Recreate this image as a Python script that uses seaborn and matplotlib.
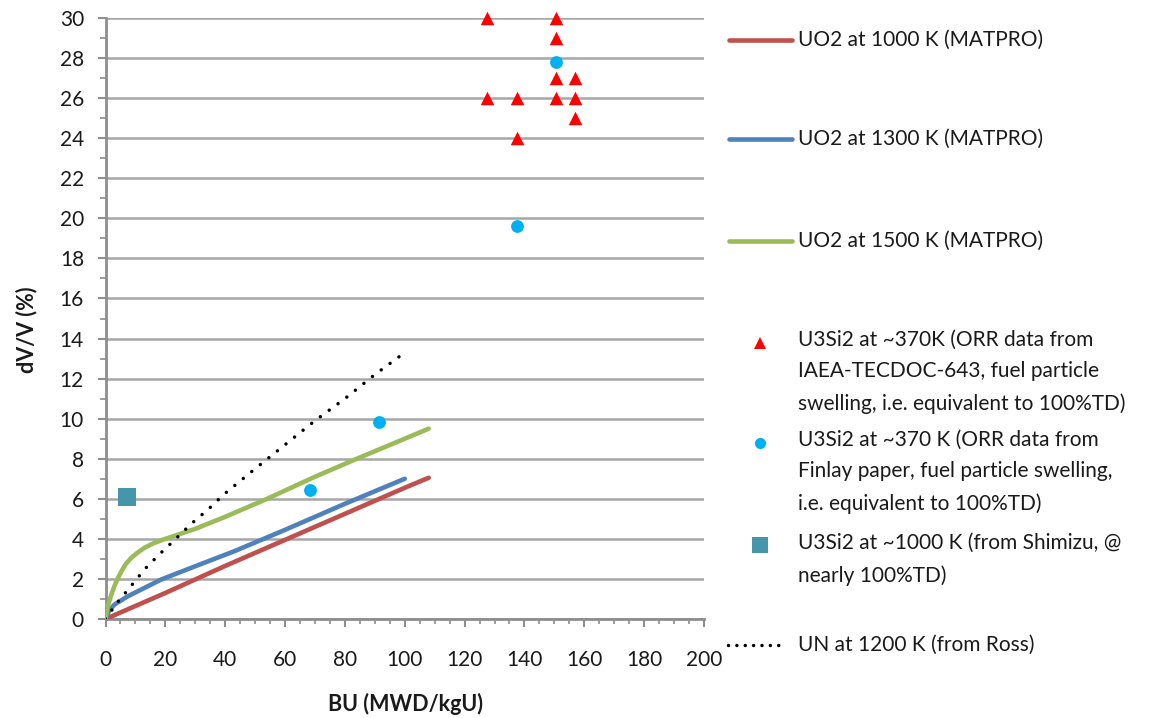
import numpy as np
import pandas as pd
import matplotlib
matplotlib.use("Agg")
import matplotlib.pyplot as plt
import seaborn as sns
from matplotlib.lines import Line2D

# ---------------- data ----------------
uo2_1000_bu = [0, 20, 40, 60, 80, 100, 108]
uo2_1000_dv = [0, 1.3, 2.65, 3.95, 5.25, 6.55, 7.05]

uo2_1300_bu = [0, 1.3, 3, 7.4, 18.6, 30.8, 43, 60, 80, 100]
uo2_1300_dv = [0, 0.45, 0.72, 1.13, 1.97, 2.68, 3.38, 4.45, 5.75, 7.0]

uo2_1500_bu = [0, 0.4, 1, 1.8, 3, 4, 5.2, 6.8, 8.6, 10.6, 13, 16, 20, 25, 30, 40, 54, 70, 84, 100, 108]
uo2_1500_dv = [0, 0.4, 0.75, 1.15, 1.65, 2.0, 2.35, 2.75, 3.05, 3.3, 3.55, 3.78, 4.0, 4.25, 4.5, 5.1, 6.0, 7.1, 8.0, 9.0, 9.5]

un_bu = [0, 2, 4, 8.6, 13.3, 18.3, 23.6, 28.8, 34.3, 39.4, 50, 60, 70, 80, 90, 100]
un_dv = [0, 0.42, 0.83, 1.66, 2.52, 3.27, 4.02, 4.77, 5.47, 6.2, 7.5, 8.7, 9.9, 11.0, 12.2, 13.3]

iaea_bu = [127.5, 150.5, 150.5, 150.5, 157, 127.5, 137.5, 150.5, 157, 157, 137.5]
iaea_dv = [30, 30, 29, 27, 27, 26, 26, 26, 26, 25, 24]

finlay_bu = [150.5, 137.5, 91.5, 68.5]
finlay_dv = [27.8, 19.6, 9.85, 6.45]

shimizu_bu = [7.3]
shimizu_dv = [6.1]

x_ticks = list(range(0, 201, 20))
y_ticks = list(range(0, 31, 2))

labels = [
    "UO2 at 1000 K (MATPRO)",
    "UO2 at 1300 K (MATPRO)",
    "UO2 at 1500 K (MATPRO)",
    "U3Si2 at ~370K (ORR data from\nIAEA-TECDOC-643, fuel particle\nswelling, i.e. equivalent to 100%TD)",
    "U3Si2 at ~370 K (ORR data from\nFinlay paper, fuel particle swelling,\ni.e. equivalent to 100%TD)",
    "U3Si2 at ~1000 K (from Shimizu, @\nnearly 100%TD)",
    "UN at 1200 K (from Ross)",
]
x_label = "BU (MWD/kgU)"
y_label = "dV/V (%)"

# ---------------- style ----------------
sns.set_style("white")
plt.rcParams["font.family"] = ["Lato", "DejaVu Sans"]
TXT = "#1a1a1a"
RED, BLUE, GREEN = "#C0504D", "#4F81BD", "#9BBB59"
TRI, CIRC, SQ = "#FF0000", "#00B0F0", "#4596AB"
GRID = "#A6A6A6"
SPINE = "#8E8E8E"
FS = 15

W, H = 1150, 718
fig = plt.figure(figsize=(W / 100, H / 100), dpi=100)
ax = fig.add_axes([105.5 / W, 1 - 619 / H, (704 - 105.5) / W, (619 - 18) / H])

lw = 3.3
for bu, dv, c in [(uo2_1000_bu, uo2_1000_dv, RED),
                  (uo2_1300_bu, uo2_1300_dv, BLUE),
                  (uo2_1500_bu, uo2_1500_dv, GREEN)]:
    sns.lineplot(x=bu, y=dv, ax=ax, color=c, lw=lw, sort=False,
                 estimator=None, solid_capstyle="round",
                 solid_joinstyle="round", zorder=3)

sns.lineplot(x=un_bu, y=un_dv, ax=ax, color="black", lw=2.5, sort=False,
             estimator=None, zorder=4, dashes=False,
             linestyle=(0, (0.01, 3.15)), dash_capstyle="round")

sns.scatterplot(x=iaea_bu, y=iaea_dv, ax=ax, marker="^", color=TRI, s=95,
                linewidth=0, zorder=5, clip_on=False)
sns.scatterplot(x=finlay_bu, y=finlay_dv, ax=ax, marker="o", color=CIRC, s=85,
                linewidth=0, zorder=5, clip_on=False)
sns.scatterplot(x=shimizu_bu, y=shimizu_dv, ax=ax, marker="s", color=SQ, s=150,
                linewidth=0, zorder=5, clip_on=False)

ax.set_xlim(0, 200)
ax.set_ylim(0, 30)
ax.set_xticks(x_ticks)
ax.set_yticks(y_ticks)
ax.set_xticks(np.arange(0, 201, 5), minor=True)
ax.set_yticks(np.arange(1, 30, 2), minor=True)
ax.yaxis.grid(True, which="major", color=GRID, lw=1.8, zorder=0)
ax.set_axisbelow(True)
for s in ["top", "right"]:
    ax.spines[s].set_visible(False)
for s in ["left", "bottom"]:
    ax.spines[s].set_color(SPINE)
    ax.spines[s].set_linewidth(2)
ax.tick_params(axis="y", which="major", direction="out", length=5.5, width=1.5,
               color=SPINE, pad=10, labelsize=FS, labelcolor=TXT, left=True)
ax.tick_params(axis="y", which="minor", direction="out", length=4, width=1.2,
               color=SPINE, left=True)
ax.tick_params(axis="x", which="major", direction="out", length=5.5, width=1.5,
               color=SPINE, pad=17, labelsize=FS, labelcolor=TXT, bottom=True)
ax.tick_params(axis="x", which="minor", direction="out", length=3.5, width=1.2,
               color=SPINE, bottom=True)
ax.set_xlabel(x_label, fontsize=15.5, fontweight="bold", color=TXT,
              va="center", ha="center")
ax.set_ylabel(y_label, fontsize=15.5, fontweight="bold", color=TXT,
              va="center", ha="center")
ax.xaxis.set_label_coords((405 - 105.5) / (704 - 105.5), -(704 - 619) / (619 - 18))
ax.yaxis.set_label_coords(-(105.5 - 27) / (704 - 105.5), (619 - 330) / (619 - 18))

# ---------------- legend (manual layout) ----------------
def fx(px):
    return px / W

def fy(py):
    return 1 - py / H

text_x = 798
line_h = 29
entries = [
    ("line", RED, 40),
    ("line", BLUE, 139),
    ("line", GREEN, 241),
    ("^", TRI, 343),
    ("o", CIRC, 443),
    ("s", SQ, 545),
    ("dot", "black", 645),
]
for (kind, col, yy), lab in zip(entries, labels):
    if kind == "line":
        fig.add_artist(Line2D([fx(729), fx(792)], [fy(yy), fy(yy)], color=col,
                              lw=lw, solid_capstyle="round",
                              transform=fig.transFigure))
    elif kind == "dot":
        fig.add_artist(Line2D([fx(728), fx(786)], [fy(yy), fy(yy)], color=col,
                              lw=2.5, linestyle=(0, (0.01, 2.4)),
                              dash_capstyle="round", transform=fig.transFigure))
    else:
        ms = {"^": 8, "o": 8, "s": 11.5}[kind]
        fig.add_artist(Line2D([fx(760)], [fy(yy)], marker=kind, color=col,
                              markersize=ms, linestyle="none", markeredgewidth=0,
                              transform=fig.transFigure))
    n = lab.count("\n") + 1
    yc = yy + (n - 1) * line_h / 2
    fig.text(fx(text_x), fy(yc), lab, fontsize=FS, color=TXT, ha="left",
             va="center", linespacing=1.72)

fig.savefig("out.png", dpi=100)
